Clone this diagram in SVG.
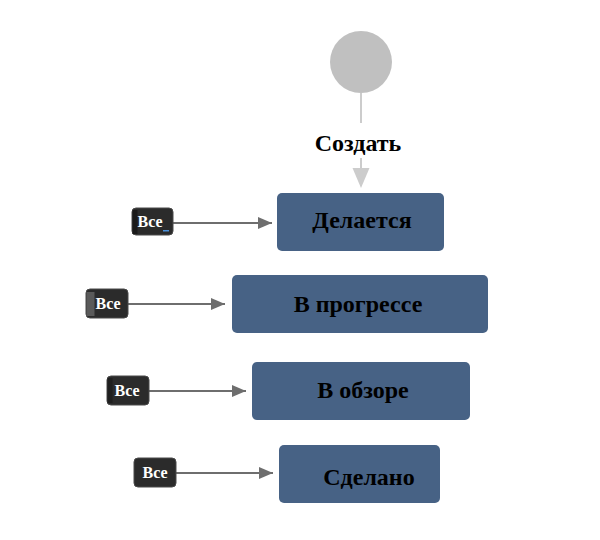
<svg xmlns="http://www.w3.org/2000/svg" width="600" height="540" viewBox="0 0 600 540">
<style>
.node{fill:#476285;}
.ntext{font-family:"Liberation Serif",serif;font-weight:bold;font-size:24px;fill:#000;text-anchor:middle;}
.badge{fill:#2b2b2b;stroke:#4a4a4a;stroke-width:1;}
.btext{font-family:"Liberation Serif",serif;font-weight:bold;font-size:16px;fill:#fff;text-anchor:middle;}
.arr{stroke:#6e6e6e;stroke-width:2;fill:none;}
.start{stroke:#cccccc;stroke-width:2;fill:none;}
</style>
<defs>
<marker id="ah" markerWidth="14" markerHeight="12" refX="14" refY="6" orient="auto" markerUnits="userSpaceOnUse">
<path d="M0,0 L14,6 L0,12 Z" fill="#6e6e6e"/>
</marker>
</defs>
<rect width="600" height="540" fill="#fff"/>
<g id="connectors">
<line class="start" x1="361" y1="93" x2="361" y2="123"/>
<line class="start" x1="361" y1="158" x2="361" y2="170"/>
<path d="M352.5,168 L369.5,168 L361,188 Z" fill="#cccccc"/>
<text class="ntext" x="358" y="151">Создать</text>
<line class="arr" x1="173" y1="223" x2="272" y2="223" marker-end="url(#ah)"/>
<line class="arr" x1="128" y1="304" x2="225" y2="304" marker-end="url(#ah)"/>
<line class="arr" x1="149" y1="391" x2="246" y2="391" marker-end="url(#ah)"/>
<line class="arr" x1="176" y1="473" x2="273" y2="473" marker-end="url(#ah)"/>
</g>
<g id="start">
<circle cx="361" cy="62" r="31" fill="#c0c0c0"/>
</g>
<g id="n-doing">
<rect class="node" x="277" y="193" width="167" height="58" rx="5"/>
<text class="ntext" x="362" y="228">Делается</text>
</g>
<g id="n-progress">
<rect class="node" x="232" y="275" width="256" height="58" rx="5"/>
<text class="ntext" x="358" y="312">В прогрессе</text>
</g>
<g id="n-review">
<rect class="node" x="252" y="362" width="218" height="58" rx="5"/>
<text class="ntext" x="363" y="398">В обзоре</text>
</g>
<g id="n-done">
<rect class="node" x="279" y="445" width="161" height="58" rx="5"/>
<text class="ntext" x="369" y="485">Сделано</text>
</g>
<g id="b1">
<rect class="badge" x="132" y="208" width="41" height="27" rx="4"/>
<rect x="132.5" y="210" width="5" height="24" fill="#1a1a1a"/>
<rect x="163" y="230" width="6" height="1.5" fill="#4a90d9"/>
<text class="btext" x="150" y="227">Все</text>
</g>
<g id="b2">
<rect class="badge" x="86" y="289" width="42" height="29" rx="4"/>
<rect x="86.5" y="292" width="8" height="24" fill="#5a5a5a"/>
<text class="btext" x="108" y="309">Все</text>
</g>
<g id="b3">
<rect class="badge" x="107" y="376" width="42" height="29" rx="4"/>
<rect x="107.5" y="378" width="5" height="25" fill="#1f1f1f"/>
<text class="btext" x="127" y="396">Все</text>
</g>
<g id="b4">
<rect class="badge" x="134" y="458" width="42" height="29" rx="4"/>
<text class="btext" x="155" y="478">Все</text>
</g>
</svg>
